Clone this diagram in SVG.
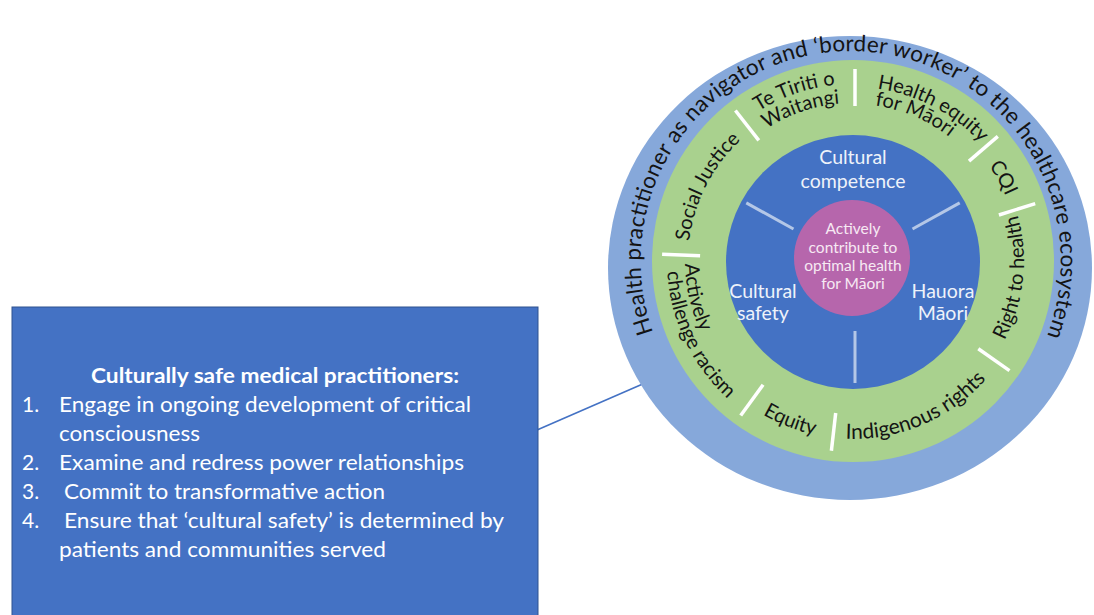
<svg xmlns="http://www.w3.org/2000/svg" xmlns:xlink="http://www.w3.org/1999/xlink" width="1094" height="615" viewBox="0 0 1094 615">
  <style>
    .ring-txt { font-family: Lato, "Noto Sans", "Liberation Sans", sans-serif; fill: #141414; }
    .core-txt { font-family: Lato, "Noto Sans", "Liberation Sans", sans-serif; fill: #EEF2FA; font-size: 19.5px; text-anchor: middle; }
    .hub-txt { font-family: Lato, "Noto Sans", "Liberation Sans", sans-serif; fill: #F6E9F3; font-size: 15.5px; text-anchor: middle; }
    .box-txt { font-family: Lato, "Noto Sans", "Liberation Sans", sans-serif; fill: #FFFFFF; font-size: 21px; }
    .divider { stroke: #FFFFFF; stroke-width: 3.5; stroke-linecap: butt; }
    .spoke { stroke: #B4C7E7; stroke-width: 3; }
  </style>
  <defs>
    <!-- outer ring text arc -->
    <path id="arc-outer" d="M654.7,336.6 A210,210 0 1 1 1045.3,340.1"/>
    <!-- value ring arcs (clockwise = glyph tops outward) -->
    <path id="arc-social" d="M688.1,255.2 A165,165 0 0 1 751.4,131.0"/>
    <path id="arc-tiriti" d="M749.0,117.8 A177,177 0 0 1 846.8,84.1"/>
    <path id="arc-waitangi" d="M760.1,133.2 A158,158 0 0 1 847.5,103.1"/>
    <path id="arc-equity1" d="M877.2,88.7 A174,174 0 0 1 986.3,149.2"/>
    <path id="arc-equity2" d="M874.9,105.5 A157,157 0 0 1 973.3,160.1"/>
    <path id="arc-cqi" d="M982.0,156.5 A166,166 0 0 1 1009.96,206.95"/>
    <!-- value ring arcs (counter-clockwise = glyph tops inward) -->
    <path id="arc-right" d="M1001.1,346.5 A171,171 0 0 0 1015.6,208.2"/>
    <path id="arc-indig" d="M837.5,438.3 A178,178 0 0 0 991.3,373.0"/>
    <path id="arc-eq" d="M753.5,408.6 A178,178 0 0 0 825.2,436.8"/>
    <path id="arc-actively" d="M685.1,255.1 A168,168 0 0 0 704.7,339.9"/>
    <path id="arc-challenge" d="M667,261 A186,186 0 0 0 735.9,405.6"/>
  </defs>

  <rect width="1094" height="615" fill="#FFFFFF"/>

  <!-- connector between the list box and the wheel -->
  <g id="connectors">
    <line x1="537" y1="430" x2="645" y2="383" stroke="#4472C4" stroke-width="1.6"/>
  </g>

  <!-- outer ring -->
  <g id="ring-outer">
    <ellipse cx="850" cy="268" rx="242" ry="232" fill="#86A8DA"/>
    <text class="ring-txt" font-size="22.5">
      <textPath xlink:href="#arc-outer" href="#arc-outer" startOffset="50%" text-anchor="middle" textLength="808" lengthAdjust="spacing">Health practitioner as navigator and ‘border worker’ to the healthcare ecosystem</textPath>
    </text>
  </g>

  <!-- values ring -->
  <g id="ring-values">
    <circle cx="853" cy="261" r="201" fill="#A9D18E"/>
    <line class="divider" x1="855" y1="106" x2="855" y2="69"/>
    <line class="divider" x1="758.8" y1="140.4" x2="735.4" y2="110.5"/>
    <line class="divider" x1="700.1" y1="255.7" x2="662.1" y2="254.3"/>
    <line class="divider" x1="763.1" y1="384.8" x2="740.7" y2="415.5"/>
    <line class="divider" x1="835.7" y1="413.0" x2="831.4" y2="450.8"/>
    <line class="divider" x1="978.3" y1="348.8" x2="1009.5" y2="370.6"/>
    <line class="divider" x1="998.9" y1="215.0" x2="1035.2" y2="203.6"/>
    <line class="divider" x1="969.0" y1="161.2" x2="997.8" y2="136.4"/>
    <g class="ring-txt" font-size="20">
      <text><textPath href="#arc-social" startOffset="50%" text-anchor="middle">Social Justice</textPath></text>
      <text><textPath href="#arc-tiriti" startOffset="50%" text-anchor="middle">Te Tiriti o</textPath></text>
      <text><textPath href="#arc-waitangi" startOffset="50%" text-anchor="middle">Waitangi</textPath></text>
      <text><textPath href="#arc-equity1" startOffset="0">Health equity</textPath></text>
      <text><textPath href="#arc-equity2" startOffset="0">for Māori</textPath></text>
      <text><textPath href="#arc-cqi" startOffset="50%" text-anchor="middle">CQI</textPath></text>
      <text><textPath href="#arc-right" startOffset="50%" text-anchor="middle">Right to health</textPath></text>
      <text font-size="21"><textPath href="#arc-indig" startOffset="50%" text-anchor="middle">Indigenous rights</textPath></text>
      <text><textPath href="#arc-eq" startOffset="50%" text-anchor="middle">Equity</textPath></text>
      <text><textPath href="#arc-actively" startOffset="50%" text-anchor="middle">Actively</textPath></text>
      <text><textPath href="#arc-challenge" startOffset="50%" text-anchor="middle">challenge racism</textPath></text>
    </g>
  </g>

  <!-- core circle -->
  <g id="core">
    <circle cx="853" cy="262" r="127" fill="#4472C4"/>
    <line class="spoke" x1="793.5" y1="229.0" x2="746.3" y2="202.9"/>
    <line class="spoke" x1="912.5" y1="229.0" x2="959.7" y2="202.9"/>
    <line class="spoke" x1="855" y1="331" x2="855" y2="383"/>
    <text class="core-txt" x="853" y="164">Cultural</text>
    <text class="core-txt" x="853" y="188">competence</text>
    <text class="core-txt" x="763" y="298">Cultural</text>
    <text class="core-txt" x="763" y="320">safety</text>
    <text class="core-txt" x="943" y="298">Hauora</text>
    <text class="core-txt" x="943" y="320">Māori</text>
  </g>

  <!-- hub -->
  <g id="hub">
    <circle cx="852" cy="258" r="58" fill="#B666AC"/>
    <text class="hub-txt" x="853" y="234">Actively</text>
    <text class="hub-txt" x="853" y="253">contribute to</text>
    <text class="hub-txt" x="853" y="271">optimal health</text>
    <text class="hub-txt" x="853" y="289">for Māori</text>
  </g>

  <!-- list box -->
  <g id="box-practitioners">
    <rect x="12" y="307" width="526" height="312" fill="#4472C4" stroke="#2F528F" stroke-width="1"/>
    <text class="box-txt" x="275" y="383" font-weight="bold" text-anchor="middle" textLength="368" lengthAdjust="spacingAndGlyphs">Culturally safe medical practitioners:</text>
    <text class="box-txt" x="22" y="412">1.</text>
    <text class="box-txt" x="59" y="412" textLength="412" lengthAdjust="spacingAndGlyphs">Engage in ongoing development of critical</text>
    <text class="box-txt" x="59" y="441" textLength="141" lengthAdjust="spacingAndGlyphs">consciousness</text>
    <text class="box-txt" x="22" y="470">2.</text>
    <text class="box-txt" x="59" y="470" textLength="405" lengthAdjust="spacingAndGlyphs">Examine and redress power relationships</text>
    <text class="box-txt" x="22" y="499">3.</text>
    <text class="box-txt" x="64" y="499" textLength="321" lengthAdjust="spacingAndGlyphs">Commit to transformative action</text>
    <text class="box-txt" x="22" y="528">4.</text>
    <text class="box-txt" x="64" y="528" textLength="440" lengthAdjust="spacingAndGlyphs">Ensure that ‘cultural safety’ is determined by</text>
    <text class="box-txt" x="59" y="557" textLength="327" lengthAdjust="spacingAndGlyphs">patients and communities served</text>
  </g>
</svg>
